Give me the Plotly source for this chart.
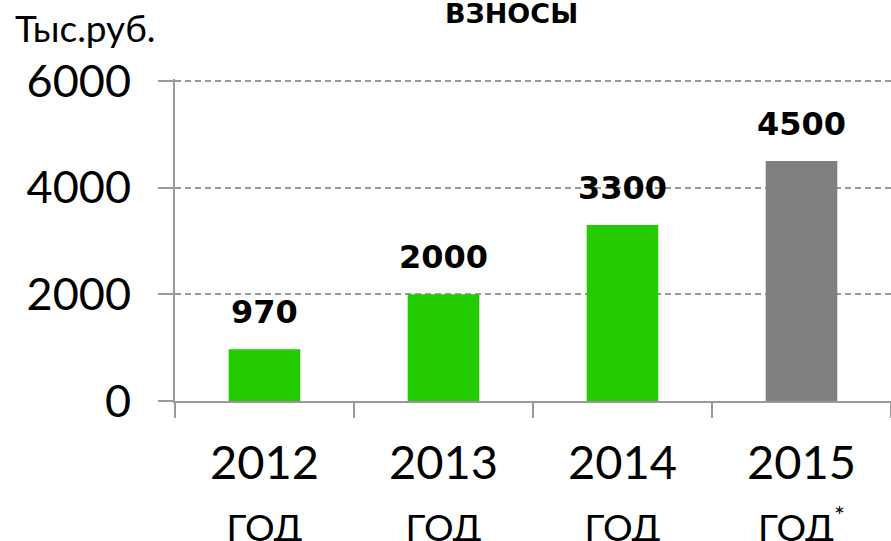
import plotly.graph_objects as go

years = ["2012", "2013", "2014", "2015"]
year_suffix = ["ГОД", "ГОД", "ГОД", "ГОД*"]
values = [970, 2000, 3300, 4500]
bar_colors = ["#22CC00", "#22CC00", "#22CC00", "#808080"]
y_ticks = [0, 2000, 4000, 6000]
title_text = "ВЗНОСЫ"
unit_text = "Тыс.руб."

tick_font = "Century Gothic, Lato, Liberation Sans, sans-serif"
ticktext = [f"{y}<br><span style='font-size:37px'>{s.replace('*', '<sup>*</sup>')}</span>"
            for y, s in zip(years, year_suffix)]

fig = go.Figure()
fig.add_trace(go.Bar(
    x=years, y=values, marker=dict(color=bar_colors, line=dict(width=0)),
    width=0.4, showlegend=False, hoverinfo="skip",
))

for i, v in enumerate(values):
    fig.add_annotation(x=i, y=v, text=f"<b>{v}</b>", showarrow=False,
                       yanchor="bottom", yshift=16,
                       font=dict(family="DejaVu Sans, sans-serif", size=32, color="black"))

TOP = 79
fig.add_annotation(xref="paper", yref="paper", x=(511 - 175) / 716, y=1,
                   yanchor="middle", xanchor="center", yshift=TOP - 13,
                   text=f"<b>{title_text}</b>", showarrow=False,
                   font=dict(family="DejaVu Sans, sans-serif", size=27, color="black"))
fig.add_annotation(xref="paper", yref="paper", x=0, y=1, xshift=-175 + 13,
                   xanchor="left", yanchor="middle", yshift=TOP - 27,
                   text=unit_text, showarrow=False,
                   font=dict(family=tick_font, size=37, color="black"))

fig.update_layout(
    width=891, height=541,
    margin=dict(l=175, r=0, t=TOP, b=140, autoexpand=False),
    plot_bgcolor="white", paper_bgcolor="white",
    bargap=0.6,
    xaxis=dict(
        type="category", range=[-0.5, len(years) - 0.5], automargin=False,
        tickmode="array", tickvals=years, ticktext=ticktext,
        tickson="boundaries", ticks="outside", ticklen=15, tickwidth=2,
        tickcolor="#999999", showline=True, linecolor="#999999", linewidth=2,
        showgrid=False, ticklabelstandoff=20, tickangle=0,
        tickfont=dict(family=tick_font, size=47, color="black"),
    ),
    yaxis=dict(
        range=[0, 6037], tickvals=y_ticks, automargin=False,
        ticks="outside", ticklen=15, tickwidth=2,
        tickcolor="#999999", showline=True, linecolor="#999999", linewidth=2,
        showgrid=True, gridcolor="#999999", gridwidth=1.5, griddash="6px,4px",
        zeroline=False, ticklabelstandoff=18,
        tickfont=dict(family=tick_font, size=45, color="black"),
    ),
)

fig.write_html("out.html", config={"displayModeBar": False},
               post_script="document.body.style.margin='0';document.body.style.overflow='hidden';")
